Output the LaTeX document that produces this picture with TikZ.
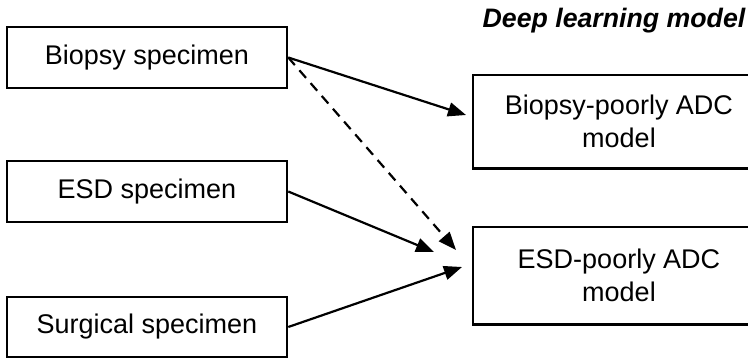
\documentclass[tikz,border=0pt]{standalone}
\usepackage{fontspec}
\setmainfont{Liberation Sans}
\usetikzlibrary{arrows.meta}
\begin{document}
\begin{tikzpicture}[x=1pt,y=-1pt,
  box/.style={draw=black, line width=2.5pt, fill=white, inner sep=0pt, align=center,
    font=\fontsize{27}{33}\selectfont},
  obox/.style={box, draw=none},
  edge/.style={line width=2.5pt, line join=miter},
  link/.style={line width=2.2pt, -{Triangle[length=18pt,width=14pt]}},
  dlink/.style={link, dash pattern=on 10pt off 7pt}]
\useasboundingbox (0,0) rectangle (748,359);
\fill[white] (0,0) rectangle (748,359);
\node[font=\fontsize{26.7}{30}\selectfont\bfseries\itshape] (title) at (614,21) {Deep learning model};
\node[box, minimum width=280pt, minimum height=61pt] (bio) at (147,57.5) {Biopsy specimen};
\node[box, minimum width=280pt, minimum height=61pt] (esd) at (147,191.5) {ESD specimen};
\node[box, minimum width=280pt, minimum height=60pt] (sur) at (147,327) {Surgical specimen};
\node[obox, minimum width=290pt, minimum height=91pt] (bm) at (619,121.5) {Biopsy-poorly ADC\\model};
\node[obox, minimum width=290pt, minimum height=95pt] (em) at (619,275.5) {ESD-poorly ADC\\model};
\begin{scope}
\clip (0,0) rectangle (748,359);
\draw[edge] (bm.north east) -- (bm.north west) -- (bm.south west) -- (bm.south east);
\draw[edge] (em.north east) -- (em.north west) -- (em.south west) -- (em.south east);
\end{scope}
\coordinate (t1) at (466,115);
\coordinate (t2) at (456,250);
\coordinate (t3) at (434,252);
\coordinate (t4) at (462,267);
\draw[link] (bio.east) -- (t1);
\draw[dlink] (bio.east) -- (t2);
\draw[link] (esd.east) -- (t3);
\draw[link] (sur.east) -- (t4);
\end{tikzpicture}
\end{document}
